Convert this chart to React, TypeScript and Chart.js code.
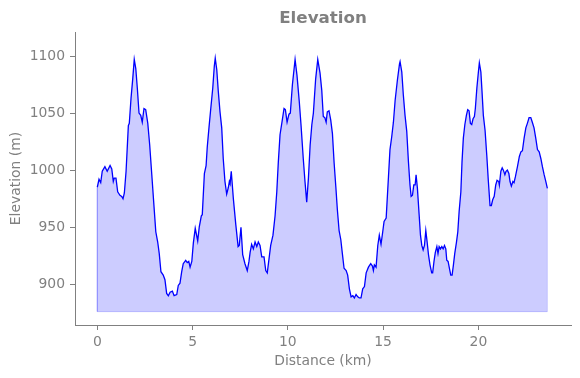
import React, { useEffect, useRef } from "react";
import { Chart, registerables } from "chart.js";

Chart.register(...registerables);

const DIST_KM = [
  0.0, 0.09, 0.18, 0.26, 0.4, 0.52, 0.67, 0.76, 0.84, 0.89, 0.98, 1.07, 1.19, 1.28, 1.35, 1.42,
  1.51, 1.57, 1.63, 1.68, 1.77, 1.86, 1.94, 2.02, 2.1, 2.19, 2.28, 2.36, 2.45, 2.54, 2.65, 2.75,
  2.86, 2.96, 3.07, 3.17, 3.25, 3.34, 3.46, 3.55, 3.64, 3.73, 3.82, 3.94, 4.03, 4.17, 4.25, 4.34,
  4.43, 4.51, 4.64, 4.72, 4.8, 4.87, 4.96, 5.04, 5.14, 5.27, 5.35, 5.46, 5.51, 5.62, 5.71, 5.77,
  5.86, 5.95, 6.06, 6.14, 6.19, 6.27, 6.35, 6.44, 6.53, 6.61, 6.7, 6.79, 6.88, 6.93, 6.97, 7.03,
  7.14, 7.27, 7.39, 7.45, 7.54, 7.63, 7.75, 7.87, 7.96, 8.02, 8.1, 8.19, 8.28, 8.37, 8.45, 8.54,
  8.63, 8.75, 8.84, 8.92, 9.01, 9.1, 9.22, 9.33, 9.42, 9.5, 9.59, 9.71, 9.8, 9.87, 9.96, 10.06,
  10.13, 10.24, 10.38, 10.48, 10.6, 10.69, 10.81, 10.9, 10.99, 11.08, 11.17, 11.26, 11.34, 11.46,
  11.57, 11.69, 11.78, 11.86, 11.94, 12.01, 12.07, 12.16, 12.25, 12.34, 12.43, 12.52, 12.6, 12.69,
  12.78, 12.86, 12.95, 13.06, 13.14, 13.23, 13.32, 13.41, 13.49, 13.58, 13.67, 13.75, 13.84, 13.93,
  14.02, 14.11, 14.23, 14.35, 14.44, 14.49, 14.54, 14.63, 14.72, 14.8, 14.89, 14.98, 15.05, 15.16,
  15.28, 15.36, 15.45, 15.54, 15.63, 15.75, 15.86, 15.89, 15.98, 16.06, 16.15, 16.24, 16.33, 16.41,
  16.47, 16.54, 16.61, 16.68, 16.73, 16.8, 16.89, 16.96, 17.03, 17.1, 17.17, 17.24, 17.31, 17.38,
  17.46, 17.55, 17.6, 17.67, 17.74, 17.82, 17.88, 17.94, 18.01, 18.08, 18.15, 18.22, 18.29, 18.34,
  18.41, 18.48, 18.55, 18.62, 18.69, 18.76, 18.85, 18.92, 18.99, 19.08, 19.14, 19.21, 19.29, 19.37,
  19.44, 19.51, 19.58, 19.65, 19.72, 19.79, 19.84, 19.92, 20.0, 20.05, 20.13, 20.19, 20.26, 20.35,
  20.44, 20.52, 20.61, 20.68, 20.75, 20.83, 20.91, 20.98, 21.07, 21.1, 21.18, 21.25, 21.31, 21.39,
  21.45, 21.52, 21.6, 21.66, 21.73, 21.81, 21.87, 21.94, 22.05, 22.15, 22.23, 22.31, 22.4, 22.49,
  22.57, 22.66, 22.75, 22.83, 22.92, 23.01, 23.1, 23.19, 23.28, 23.36, 23.45, 23.54, 23.62,
];

const ELEV_M = [
  985, 992, 989, 999, 1003, 999, 1004, 1001, 990, 993, 993, 981, 978, 977, 975, 980,
  999, 1019, 1039, 1041, 1063, 1080, 1097, 1089, 1072, 1050, 1048, 1042, 1054, 1053, 1041, 1022,
  996, 972, 946, 937, 927, 911, 908, 904, 892, 890, 893, 894, 890, 891, 899, 901,
  911, 918, 921, 919, 920, 915, 920, 936, 949, 938, 950, 960, 961, 997, 1004, 1020,
  1037, 1053, 1072, 1091, 1098, 1088, 1069, 1051, 1037, 1010, 990, 979, 985, 990, 988, 999,
  975, 952, 933, 934, 950, 926, 918, 912, 920, 928, 935, 931, 937, 933, 937, 934,
  924, 924, 912, 910, 922, 934, 943, 960, 981, 1007, 1031, 1044, 1054, 1053, 1042, 1049,
  1050, 1075, 1097, 1083, 1060, 1040, 1010, 990, 972, 993, 1022, 1040, 1050, 1080,
  1097, 1085, 1070, 1047, 1046, 1042, 1051, 1052, 1044, 1032, 1006, 985, 965, 947,
  939, 927, 914, 912, 908, 896, 889, 890, 888, 891, 889, 888, 888, 896,
  898, 910, 915, 918, 916, 912, 917, 915, 934, 943, 935, 946, 955, 958,
  994, 1018, 1029, 1042, 1061, 1079, 1093, 1095, 1086, 1066, 1048, 1034, 1007, 987,
  977, 978, 987, 987, 996, 984, 961, 943, 934, 930, 934, 947, 937, 926,
  917, 910, 910, 920, 928, 933, 927, 933, 931, 933, 931, 934, 931, 921,
  920, 914, 908, 908, 917, 927, 937, 946, 964, 981, 1007, 1028, 1040, 1048,
  1053, 1052, 1041, 1040, 1045, 1047, 1054, 1072, 1086, 1094, 1086, 1069, 1048, 1035,
  1013, 991, 969, 969, 974, 977, 987, 991, 990, 987, 999, 1002, 1000, 996,
  999, 1000, 997, 990, 986, 990, 989, 994, 1003, 1012, 1016, 1017, 1028, 1037,
  1041, 1046, 1046, 1042, 1037, 1028, 1018, 1016, 1010, 1003, 996, 990, 984,
];

const FILL_BASE = 876;
const X_TICKS = [0, 5, 10, 15, 20];
const Y_TICKS = [900, 950, 1000, 1050, 1100];
const X_RANGE = [-1.17, 24.86];
const Y_RANGE = [864.3, 1121];

const TITLE = "Elevation";
const X_LABEL = "Distance (km)";
const Y_LABEL = "Elevation (m)";

const GRAY = "#808080";
const FONT = "'DejaVu Sans', 'Liberation Sans', sans-serif";

export default function App() {
  const ref = useRef<HTMLCanvasElement | null>(null);

  useEffect(() => {
    if (!ref.current) return;
    const points = DIST_KM.map((d, i) => ({ x: d, y: ELEV_M[i] }));
    const last = DIST_KM.length - 1;
    const outline = [
      { x: DIST_KM[0], y: ELEV_M[0] },
      { x: DIST_KM[0], y: FILL_BASE },
      { x: DIST_KM[last], y: FILL_BASE },
      { x: DIST_KM[last], y: ELEV_M[last] },
    ];

    const chart = new Chart(ref.current, {
      type: "line",
      data: {
        datasets: [
          {
            data: points,
            borderColor: "#0000ff",
            borderWidth: 1.3,
            pointRadius: 0,
            tension: 0,
            fill: { value: FILL_BASE },
            backgroundColor: "rgba(0,0,255,0.2)",
            order: 0,
          },
          {
            data: outline,
            borderColor: "rgba(0,0,255,0.18)",
            borderWidth: 1,
            pointRadius: 0,
            fill: false,
            order: 1,
          },
        ],
      },
      options: {
        animation: false,
        responsive: false,
        devicePixelRatio: 1,
        layout: { padding: { left: 0, right: 9, top: 0, bottom: 0 } },
        plugins: {
          legend: { display: false },
          tooltip: { enabled: false },
          title: {
            display: true,
            text: TITLE,
            fullSize: false,
            color: GRAY,
            font: { family: FONT, size: 16.7, weight: "bold", lineHeight: 1.2 },
            padding: { top: 9, bottom: 3 },
          },
        },
        scales: {
          x: {
            type: "linear",
            min: X_RANGE[0],
            max: X_RANGE[1],
            afterBuildTicks: (s: any) => {
              s.ticks = X_TICKS.map((v) => ({ value: v }));
            },
            afterFit: (s: any) => {
              s.height = 53;
            },
            ticks: {
              color: GRAY,
              font: { family: FONT, size: 13.9 },
              padding: 4,
              maxRotation: 0,
              autoSkip: false,
              includeBounds: false,
              callback: (v: any) => String(v),
            },
            grid: {
              display: true,
              drawOnChartArea: false,
              drawTicks: true,
              tickLength: 5,
              color: GRAY,
            },
            border: { display: true, color: GRAY, width: 1 },
            title: {
              display: true,
              text: X_LABEL,
              color: GRAY,
              font: { family: FONT, size: 13.9, lineHeight: 1.2 },
              padding: { top: 0, bottom: 8 },
            },
          },
          y: {
            type: "linear",
            min: Y_RANGE[0],
            max: Y_RANGE[1],
            afterBuildTicks: (s: any) => {
              s.ticks = Y_TICKS.map((v) => ({ value: v }));
            },
            afterFit: (s: any) => {
              s.width = 75;
            },
            ticks: {
              color: GRAY,
              font: { family: FONT, size: 13.9 },
              padding: 5,
              autoSkip: false,
              includeBounds: false,
              callback: (v: any) => String(v),
            },
            grid: {
              display: true,
              drawOnChartArea: false,
              drawTicks: true,
              tickLength: 5,
              color: GRAY,
            },
            border: { display: true, color: GRAY, width: 1 },
            title: {
              display: true,
              text: Y_LABEL,
              color: GRAY,
              font: { family: FONT, size: 13.9, lineHeight: 1.2 },
              padding: { top: 8, bottom: 0 },
            },
          },
        },
      },
    });
    return () => chart.destroy();
  }, []);

  return (
    <div style={{ position: "fixed", left: 0, top: 0, width: 580, height: 378, background: "#fff" }}>
      <canvas ref={ref} width={580} height={378} style={{ width: 580, height: 378 }} />
    </div>
  );
}
